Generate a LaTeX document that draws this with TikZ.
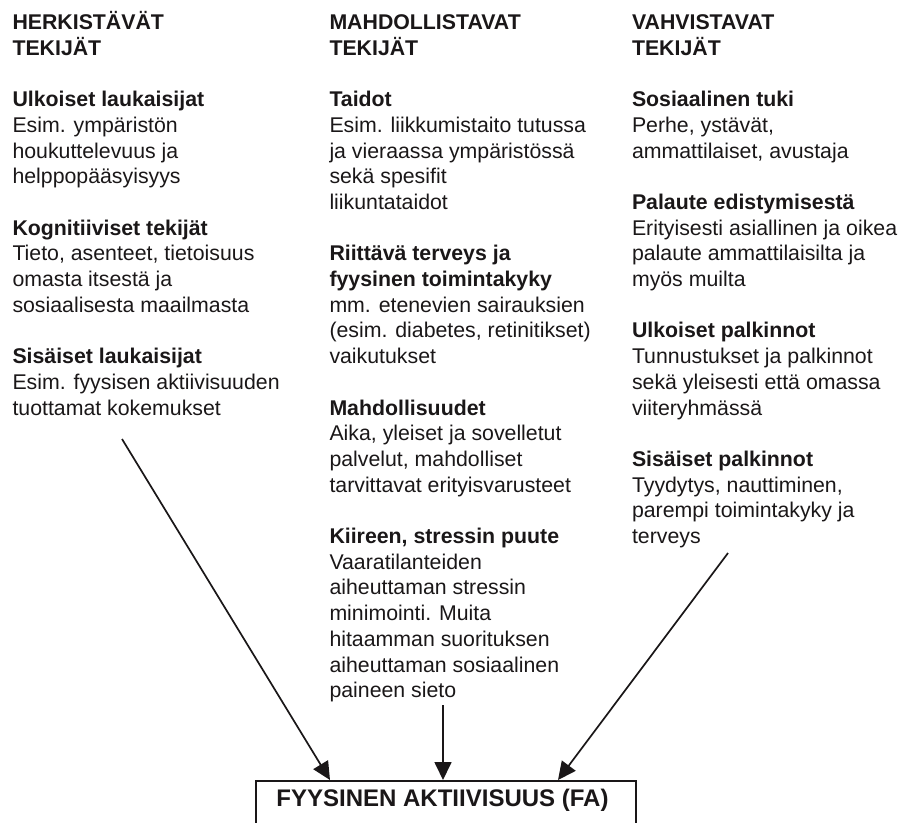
\documentclass[tikz,border=0pt]{standalone}
\usepackage{fontspec}
\setmainfont{Liberation Sans}
\usetikzlibrary{arrows.meta}
\definecolor{ink}{HTML}{1A1718}
% fixed-height strut so every block's top sits 20bp above its first baseline
\newcommand\firstln{\rule{0pt}{20bp}}
\begin{document}
\begin{tikzpicture}[x=1bp,y=-1bp,
  txt/.style={font=\fontsize{21.3bp}{25.7bp}\selectfont, align=left,
              anchor=north west, inner sep=0pt, outer sep=0pt, text=ink},
  arr/.style={draw=ink, line width=1.7bp, -{Triangle[length=18bp,width=17bp]}},
  fabox/.style={draw=ink, line width=1.5bp, rectangle, anchor=north west,
                minimum width=380bp, minimum height=50bp, inner sep=0pt}]
\useasboundingbox (0,0) rectangle (899,823);

% ---- left column
\node[txt] (h1) at (12.5,9.5) {\firstln\textbf{HERKISTÄVÄT}\\\textbf{TEKIJÄT}};
\node[txt] (l1) at (12.5,86.6) {\firstln\textbf{Ulkoiset laukaisijat}\\Esim. ympäristön\\houkuttelevuus ja\\helppopääsyisyys};
\node[txt] (l2) at (12.5,215.1) {\firstln\textbf{Kognitiiviset tekijät}\\Tieto, asenteet, tietoisuus\\omasta itsestä ja\\sosiaalisesta maailmasta};
\node[txt] (l3) at (12.5,343.6) {\firstln\textbf{Sisäiset laukaisijat}\\Esim. fyysisen aktiivisuuden\\tuottamat kokemukset};

% ---- middle column
\node[txt] (h2) at (329.5,9.5) {\firstln\textbf{MAHDOLLISTAVAT}\\\textbf{TEKIJÄT}};
\node[txt] (m1) at (329.5,86.6) {\firstln\textbf{Taidot}\\Esim. liikkumistaito tutussa\\ja vieraassa ympäristössä\\sekä spesifit\\liikuntataidot};
\node[txt] (m2) at (329.5,240.8) {\firstln\textbf{Riittävä terveys ja}\\\textbf{fyysinen toimintakyky}\\mm. etenevien sairauksien\\(esim. diabetes, retinitikset)\\vaikutukset};
\node[txt] (m3) at (329.5,395.0) {\firstln\textbf{Mahdollisuudet}\\Aika, yleiset ja sovelletut\\palvelut, mahdolliset\\tarvittavat erityisvarusteet};
\node[txt] (m4) at (329.5,523.5) {\firstln\textbf{Kiireen, stressin puute}\\Vaaratilanteiden\\aiheuttaman stressin\\minimointi. Muita\\hitaamman suorituksen\\aiheuttaman sosiaalinen\\paineen sieto};

% ---- right column
\node[txt] (h3) at (632,9.5) {\firstln\textbf{VAHVISTAVAT}\\\textbf{TEKIJÄT}};
\node[txt] (r1) at (632,86.6) {\firstln\textbf{Sosiaalinen tuki}\\Perhe, ystävät,\\ammattilaiset, avustaja};
\node[txt] (r2) at (632,189.4) {\firstln\textbf{Palaute edistymisestä}\\Erityisesti asiallinen ja oikea\\palaute ammattilaisilta ja\\myös muilta};
\node[txt] (r3) at (632,317.9) {\firstln\textbf{Ulkoiset palkinnot}\\Tunnustukset ja palkinnot\\sekä yleisesti että omassa\\viiteryhmässä};
\node[txt] (r4) at (632,446.4) {\firstln\textbf{Sisäiset palkinnot}\\Tyydytys, nauttiminen,\\parempi toimintakyky ja\\terveys};

% ---- outcome box
\node[fabox] (fa) at (255,780) {};
\node[anchor=base, inner sep=0pt, text=ink, font=\fontsize{24bp}{28bp}\selectfont\bfseries]
  (falabel) at (442.5,806) {FYYSINEN AKTIIVISUUS (FA)};

% ---- arrows
\coordinate (sa) at (122,439);
\coordinate (sb) at (443,705);
\coordinate (sc) at (728,553);
\draw[arr] (sa) -- ([xshift=75bp]fa.north west);
\draw[arr] (sb) -- ([xshift=188bp]fa.north west);
\draw[arr] (sc) -- ([xshift=303bp]fa.north west);
\end{tikzpicture}
\end{document}
